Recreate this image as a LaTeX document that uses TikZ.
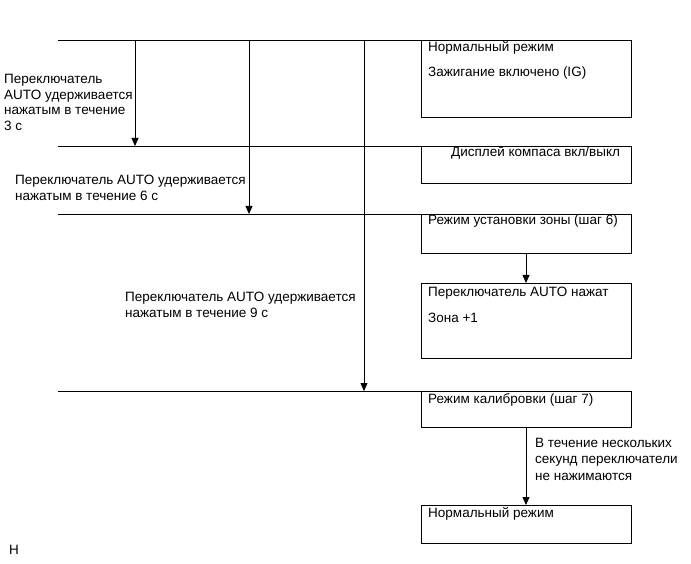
\documentclass[tikz,border=0pt]{standalone}
\usepackage{fontspec}
\setmainfont{Liberation Sans}
\usetikzlibrary{arrows.meta}
\begin{document}
\begin{tikzpicture}[x=1pt,y=-1pt,
  box/.style={draw, line width=0.8pt, rectangle, inner sep=0pt, anchor=north west},
  txt/.style={anchor=north west, inner sep=0pt, align=left, font=\fontsize{13.5}{15.7}\selectfont},
  rule/.style={line width=0.8pt},
  arr/.style={line width=0.8pt, -{Triangle[length=8pt,width=7pt]}}]
\useasboundingbox (0,0) rectangle (691,564);
% boxes
\node[box, minimum width=210, minimum height=77] (b1) at (421,40) {};
\node[box, minimum width=210, minimum height=37] (b2) at (421,146) {};
\node[box, minimum width=210, minimum height=39] (b3) at (421,214) {};
\node[box, minimum width=210, minimum height=75] (b4) at (421,283) {};
\node[box, minimum width=210, minimum height=36] (b5) at (421,391) {};
\node[box, minimum width=210, minimum height=38] (b6) at (421,505) {};
% box texts
\node[txt] (t1a) at (428,41) {Нормальный режим};
\node[txt] (t1b) at (428,67) {Зажигание включено (IG)};
\node[txt] (t2) at (451,146) {Дисплей компаса вкл/выкл};
\node[txt] (t3) at (428,215) {Режим установки зоны (шаг 6)};
\node[txt] (t4a) at (428,287) {Переключатель AUTO нажат};
\node[txt] (t4b) at (428,313) {Зона +1};
\node[txt] (t5) at (428,393) {Режим калибровки (шаг 7)};
\node[txt] (t6) at (428,507) {Нормальный режим};
% left labels
\node[txt] (l1) at (4,74) {Переключатель\\AUTO удерживается\\нажатым в течение\\3 с};
\node[txt] (l2) at (15,175) {Переключатель AUTO удерживается\\нажатым в течение 6 с};
\node[txt] (l3) at (125,292) {Переключатель AUTO удерживается\\нажатым в течение 9 с};
\node[txt, font=\fontsize{13.5}{16.5}\selectfont] (l4) at (535,438) {В течение нескольких\\секунд переключатели\\не нажимаются};
\node[txt] (h) at (9,545) {H};
% horizontal rules
\coordinate (r1) at (58,40);
\coordinate (r2) at (58,146);
\coordinate (r3) at (58,214);
\coordinate (r4) at (58,391);
\draw[rule] (r1) -- (b1.north west);
\draw[rule] (r2) -- (b2.north west);
\draw[rule] (r3) -- (b3.north west);
\draw[rule] (r4) -- (b5.north west);
% timing arrows
\coordinate (a1s) at (135,40);
\coordinate (a1e) at (135,146);
\coordinate (a2s) at (249,40);
\coordinate (a2e) at (249,214);
\coordinate (a3s) at (364,40);
\coordinate (a3e) at (364,391);
\draw[arr] (a1s) -- (a1e);
\draw[arr] (a2s) -- (a2e);
\draw[arr] (a3s) -- (a3e);
% flow arrows
\draw[arr] (b3.south -| 526,0) -- (b4.north -| 526,0);
\draw[arr] (b5.south -| 526,0) -- (b6.north -| 526,0);
\end{tikzpicture}
\end{document}
